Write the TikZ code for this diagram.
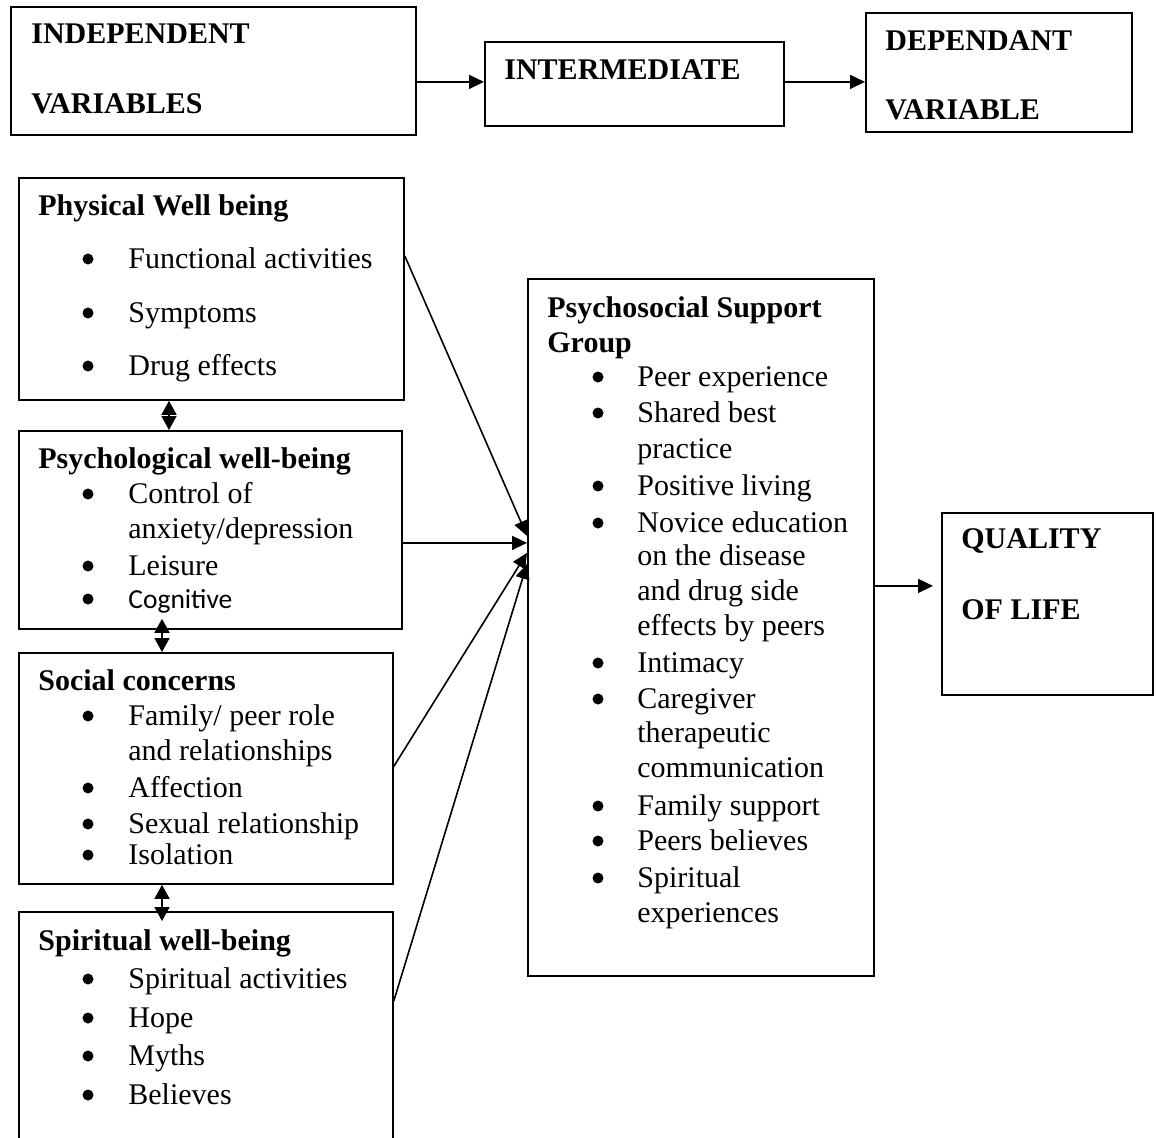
\documentclass[tikz,border=0pt]{standalone}
\usepackage{fontspec}
\setmainfont{Liberation Serif}
\newfontfamily\cali{Carlito}
\usetikzlibrary{arrows.meta}

\tikzset{
  box/.style={draw, line width=0.9pt, inner sep=0pt, anchor=north west},
  ttl/.style={anchor=base west, inner sep=0pt, font=\fontsize{15}{18}\selectfont\bfseries},
  txt/.style={anchor=base west, inner sep=0pt, font=\fontsize{15}{18}\selectfont},
  dot/.style={circle, fill, inner sep=0pt, minimum size=5.5pt},
  link/.style={line width=0.8pt, -{Triangle[length=7.5pt,width=7pt]}},
  biarrow/.style={line width=0.8pt, {Triangle[length=7pt,width=7.5pt]}-{Triangle[length=7pt,width=7.5pt]}},
}

\begin{document}
\begin{tikzpicture}[x=0.5pt, y=-0.5pt]

        \clip (0,0) rectangle (1157,1137);

        % Header row
        \node[box, minimum width=202.5pt, minimum height=64pt] (ind) at (10,6) {};
        \node[ttl] (ind-1) at (31,43) {INDEPENDENT};
        \node[ttl] (ind-2) at (31,113) {VARIABLES};

        \node[box, minimum width=149.5pt, minimum height=42pt] (mid) at (484,41) {};
        \node[ttl] (mid-1) at (504,79) {INTERMEDIATE};

        \node[box, minimum width=133pt, minimum height=59.5pt] (dep) at (865,12) {};
        \node[ttl] (dep-1) at (885,50) {DEPENDANT};
        \node[ttl] (dep-2) at (885,119) {VARIABLE};

        \draw[link] ([yshift=-5.5pt]ind.east) -- ([yshift=1pt]mid.west);
        \draw[link] ([yshift=1pt]mid.east) -- ([yshift=-4.75pt]dep.west);

        % Physical well being
        \node[box, minimum width=192.5pt, minimum height=111pt] (phys) at (18,177) {};
        \node[ttl] (phys-0) at (38,215) {Physical Well being};
        \foreach \b/\y/\t [count=\i] in {1/268/Functional activities, 1/322/Symptoms, 1/375/Drug effects} {
            \node[txt] (phys-\i) at (128,\y) {\t};
            \ifnum\b=1 \node[dot] (phys-b\i) at (88,\y-9) {}; \fi
        }

        % Psychological well-being
        \node[box, minimum width=191.5pt, minimum height=99pt] (psy) at (18,430) {};
        \node[ttl] (psy-0) at (38,468) {Psychological well-being};
        \foreach \b/\y/\t [count=\i] in {1/503/Control of, 0/538/{anxiety/depression}, 1/575/Leisure,
                1/608/{\cali\fontsize{13.75}{16}\selectfont Cognitive}} {
            \node[txt] (psy-\i) at (128,\y) {\t};
            \ifnum\b=1 \node[dot] (psy-b\i) at (88,\y-9) {}; \fi
        }

        % Social concerns
        \node[box, minimum width=187pt, minimum height=115.5pt] (soc) at (18,652) {};
        \node[ttl] (soc-0) at (38,690) {Social concerns};
        \foreach \b/\y/\t [count=\i] in {1/725/{Family/ peer role}, 0/760/and relationships, 1/797/Affection,
                1/833/Sexual relationship, 1/864/Isolation} {
            \node[txt] (soc-\i) at (128,\y) {\t};
            \ifnum\b=1 \node[dot] (soc-b\i) at (88,\y-9) {}; \fi
        }

        % Spiritual well-being (runs off the bottom)
        \node[box, minimum width=187pt, minimum height=125pt] (spi) at (18,911) {};
        \node[ttl] (spi-0) at (38,950) {Spiritual well-being};
        \foreach \b/\y/\t [count=\i] in {1/988/Spiritual activities, 1/1027/Hope, 1/1065/Myths, 1/1104/Believes} {
            \node[txt] (spi-\i) at (128,\y) {\t};
            \ifnum\b=1 \node[dot] (spi-b\i) at (88,\y-9) {}; \fi
        }

        % Links between the left boxes
        \draw[biarrow] ([xshift=75.5pt]phys.south west) -- ([xshift=75.5pt]psy.north west);
        \draw[biarrow] ([xshift=72pt, yshift=5.5pt]psy.south west) -- ([xshift=72pt]soc.north west);
        \draw[biarrow] ([xshift=72pt]soc.south west) -- ([xshift=72pt, yshift=-5pt]spi.north west);

        % Psychosocial support group
        \node[box, minimum width=173pt, minimum height=348.5pt] (psg) at (527,278) {};
        \node[ttl] (psg-0) at (547,317) {Psychosocial Support};
        \node[ttl] (psg-00) at (547,352) {Group};
        \foreach \b/\y/\t [count=\i] in {1/386/Peer experience, 1/422/Shared best, 0/458/practice,
                1/495/Positive living, 1/532/Novice education, 0/565/on the disease, 0/600/and drug side,
                0/635/effects by peers, 1/672/Intimacy, 1/708/Caregiver, 0/742/therapeutic,
                0/777/communication, 1/815/Family support, 1/850/Peers believes, 1/887/Spiritual,
                0/922/experiences} {
            \node[txt] (psg-\i) at (637,\y) {\t};
            \ifnum\b=1 \node[dot] (psg-b\i) at (598,\y-9) {}; \fi
        }

        % Arrows into the support group
        \draw[link] ([yshift=16.5pt]phys.east) -- ([yshift=45.75pt]psg.west);
        \draw[link] ([yshift=-6.5pt]psy.east) -- ([yshift=42.25pt]psg.west);
        \draw[link] ([yshift=1pt]soc.east) -- ([yshift=37.25pt]psg.west);
        \draw[link] ([yshift=18pt]spi.east) -- ([yshift=31.75pt]psg.west);

        % Quality of life
        \node[box, minimum width=105.5pt, minimum height=91pt] (qol) at (941,512) {};
        \node[ttl] (qol-1) at (961,548) {QUALITY};
        \node[ttl] (qol-2) at (961,619) {OF LIFE};

        \draw[link, shorten >=4pt] ([yshift=20.75pt]psg.east) -- ([yshift=9pt]qol.west);

\end{tikzpicture}
\end{document}
